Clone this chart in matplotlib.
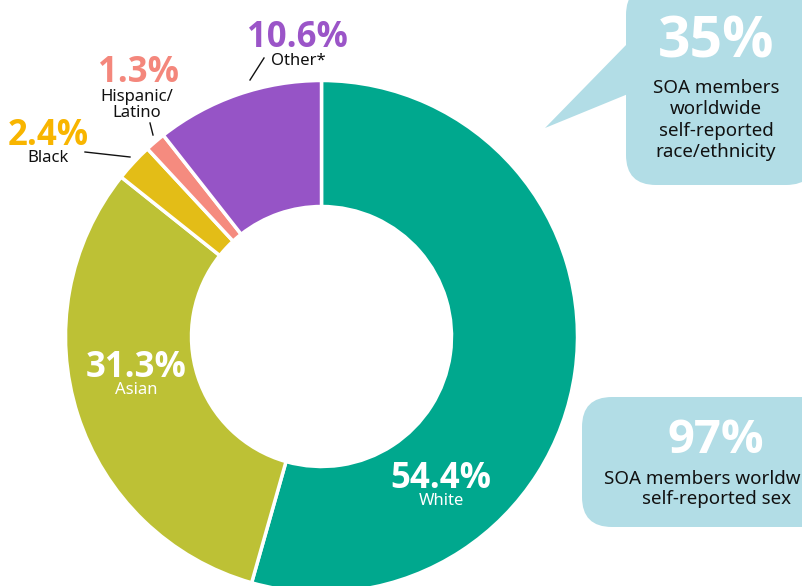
import matplotlib.pyplot as plt
from matplotlib.patches import FancyBboxPatch, Polygon

plt.rcParams['font.family'] = ['Noto Sans', 'DejaVu Sans']
BOLD = ['Open Sans', 'DejaVu Sans']

# data
groups = ['White', 'Asian', 'Black', 'Hispanic/\nLatino', 'Other*']
shares = [54.4, 31.3, 2.4, 1.3, 10.6]
colors = ['#00a88e', '#bdc135', '#e3bd17', '#f58b7f', '#9654c6']
race_stat = '35%'
race_text = 'SOA members\nworldwide\nself-reported\nrace/ethnicity'
sex_stat = '97%'
sex_text = 'SOA members worldwide\nself-reported sex'

W, H = 802, 586


def Y(py):
    # pixel row (from top) -> data y
    return H - py


fig = plt.figure(figsize=(W / 100, H / 100), dpi=100)
ax = fig.add_axes([0, 0, 1, 1])

ax.pie(shares, colors=colors, startangle=90, counterclock=False,
       radius=256, center=(321.5, Y(336.5)),
       wedgeprops=dict(width=126, edgecolor='white', linewidth=2.5))

ax.set_xlim(0, W)
ax.set_ylim(0, H)
ax.set_aspect('equal')
ax.axis('off')


def big(x, py, s, color, size=25):
    ax.text(x, Y(py), s, color=color, fontsize=size, fontweight='bold', family=BOLD,
            ha='center', va='baseline')


def small(x, py, s, color='#111111', size=12, **kw):
    ax.text(x, Y(py), s, color=color, fontsize=size, ha='center', va='center', **kw)


# labels inside the ring (big numbers placed by baseline)
big(441, 488, f'{shares[0]}%', 'white')
small(441, 501, groups[0], 'white')
big(136, 377, f'{shares[1]}%', 'white')
small(136, 390, groups[1], 'white')

# outside labels
big(48, 145, f'{shares[2]}%', '#f8b500')
small(48, 158, groups[2])
ax.plot([85, 130], [Y(152), Y(157)], color='#111111', lw=1)

big(138, 82, f'{shares[3]}%', '#f4877c')
small(137, 105, groups[3], linespacing=1.05)
ax.plot([150, 153], [Y(123), Y(135)], color='#111111', lw=1)

big(297, 47, f'{shares[4]}%', '#9b55c8')
small(298, 61, groups[4])
ax.plot([264, 250], [Y(58), Y(80)], color='#111111', lw=1)

# callout boxes
box_color = '#b2dde6'
ax.add_patch(Polygon([(628, Y(43)), (545, Y(128)), (628, Y(94))], closed=True,
                     facecolor=box_color, edgecolor='none'))
ax.add_patch(FancyBboxPatch((626, Y(185)), 190, 200,
                            boxstyle='round,pad=0,rounding_size=30',
                            facecolor=box_color, edgecolor='none'))
big(716, 57, race_stat, 'white', size=41)
small(716, 120, race_text, size=13.5, linespacing=1.25)

ax.add_patch(FancyBboxPatch((582, Y(527)), 250, 130,
                            boxstyle='round,pad=0,rounding_size=30',
                            facecolor=box_color, edgecolor='none'))
big(716, 453, sex_stat, 'white', size=34)
small(716, 489, sex_text, size=13.5, linespacing=1.1)

fig.savefig('out.png', dpi=100)
